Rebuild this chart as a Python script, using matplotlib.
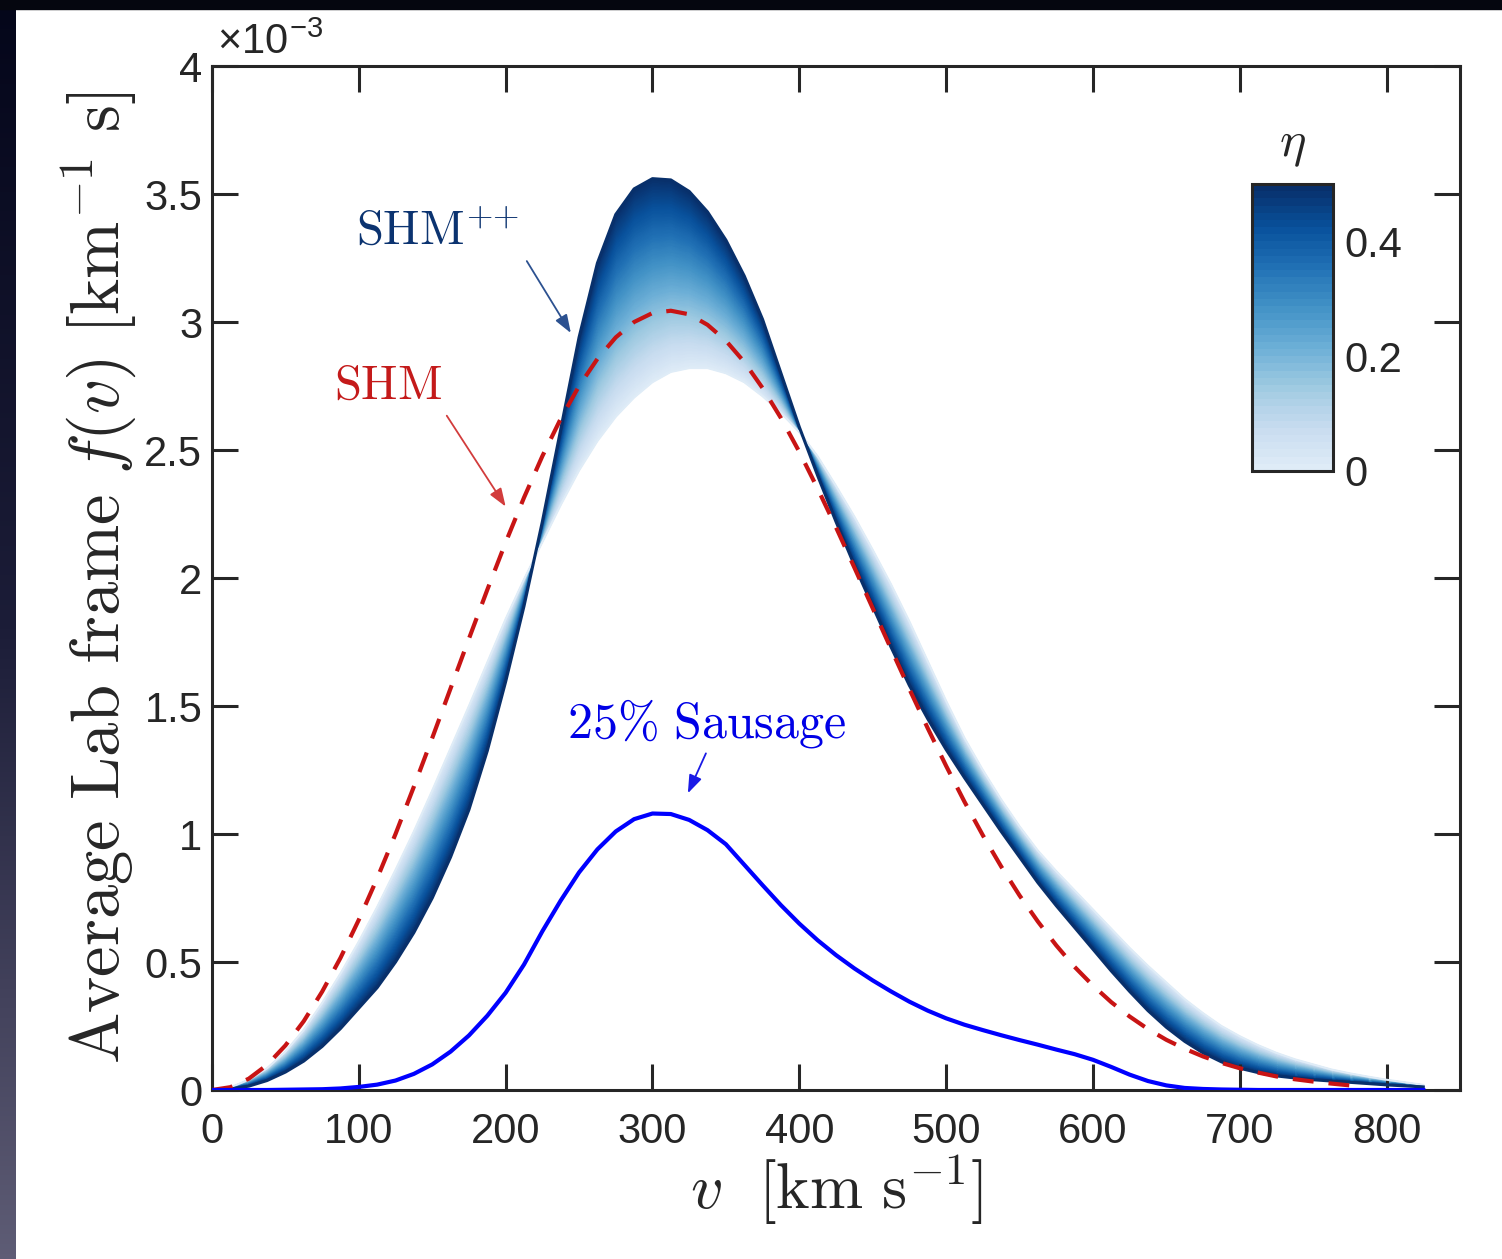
import numpy as np
import matplotlib
matplotlib.use('Agg')
import matplotlib.pyplot as plt
from matplotlib.colors import ListedColormap, LinearSegmentedColormap, Normalize
from matplotlib.patches import Rectangle
from matplotlib.ticker import FuncFormatter
from matplotlib.cm import ScalarMappable

plt.rcParams['mathtext.fontset'] = 'cm'
plt.rcParams['font.family'] = ['Liberation Sans', 'DejaVu Sans']

# speeds [km/s]; f(v) values are in units of 1e-3 km^-1 s
v = [0, 12.5, 25, 37.5, 50, 62.5, 75, 87.5, 100, 112.5, 125, 137.5, 150, 162.5, 175, 187.5,
     200, 212.5, 225, 237.5, 250, 262.5, 275, 287.5, 300, 312.5, 325, 337.5, 350, 362.5,
     375, 387.5, 400, 412.5, 425, 437.5, 450, 462.5, 475, 487.5, 500, 512.5, 525, 537.5,
     550, 562.5, 575, 587.5, 600, 612.5, 625, 637.5, 650, 662.5, 675, 687.5, 700, 712.5,
     725, 737.5, 750, 762.5, 775, 787.5, 800, 812.5, 825]
# SHM++ eta = 0 (lightest curve)
f_eta0 = [0, 0.01, 0.04, 0.085, 0.15, 0.235, 0.34, 0.455, 0.58, 0.715, 0.86, 1.01, 1.17,
          1.335, 1.50, 1.67, 1.84, 1.995, 2.14, 2.285, 2.42, 2.535, 2.63, 2.705, 2.765,
          2.805, 2.82, 2.82, 2.80, 2.765, 2.71, 2.645, 2.57, 2.475, 2.36, 2.24, 2.11, 1.975,
          1.83, 1.675, 1.52, 1.375, 1.25, 1.135, 1.03, 0.935, 0.855, 0.78, 0.705, 0.63,
          0.555, 0.485, 0.42, 0.355, 0.30, 0.25, 0.21, 0.175, 0.145, 0.12, 0.10, 0.08,
          0.065, 0.052, 0.04, 0.03, 0.02]
# SHM++ eta = 0.5 (darkest curve)
f_eta05 = [0, 0.004, 0.015, 0.037, 0.07, 0.113, 0.17, 0.24, 0.32, 0.40, 0.50, 0.615, 0.75,
           0.91, 1.095, 1.325, 1.595, 1.89, 2.22, 2.58, 2.94, 3.23, 3.42, 3.52, 3.56, 3.555,
           3.51, 3.43, 3.32, 3.18, 3.01, 2.80, 2.59, 2.40, 2.22, 2.05, 1.89, 1.73, 1.58,
           1.45, 1.33, 1.22, 1.115, 1.01, 0.91, 0.81, 0.72, 0.635, 0.55, 0.465, 0.385, 0.31,
           0.245, 0.19, 0.145, 0.11, 0.085, 0.068, 0.055, 0.047, 0.04, 0.035, 0.03, 0.025,
           0.02, 0.016, 0.012]
# 25% Sausage
f_saus = [0, 0, 0, 0, 0.001, 0.002, 0.003, 0.006, 0.012, 0.021, 0.037, 0.063, 0.10, 0.15,
          0.213, 0.29, 0.38, 0.49, 0.62, 0.74, 0.85, 0.94, 1.01, 1.058, 1.08, 1.078, 1.055,
          1.015, 0.96, 0.88, 0.80, 0.722, 0.65, 0.585, 0.527, 0.475, 0.428, 0.385, 0.345,
          0.31, 0.28, 0.255, 0.234, 0.214, 0.195, 0.177, 0.158, 0.14, 0.118, 0.09, 0.06,
          0.035, 0.018, 0.008, 0.004, 0.002, 0.001, 0, 0, 0, 0, 0, 0, 0, 0, 0, 0]
# SHM (dashed), defined up to 775 km/s
v_shm = v[:63]
f_shm = [0, 0.011, 0.044, 0.098, 0.174, 0.269, 0.384, 0.516, 0.665, 0.827, 1.00, 1.185,
         1.375, 1.569, 1.763, 1.954, 2.139, 2.314, 2.476, 2.622, 2.75, 2.856, 2.94, 3.0,
         3.035, 3.044, 3.03, 2.989, 2.927, 2.844, 2.742, 2.625, 2.493, 2.349, 2.198, 2.041,
         1.882, 1.723, 1.566, 1.413, 1.266, 1.126, 0.995, 0.873, 0.76, 0.658, 0.565, 0.481,
         0.408, 0.343, 0.287, 0.238, 0.196, 0.161, 0.131, 0.106, 0.085, 0.068, 0.053,
         0.042, 0.033, 0.025, 0.018]
eta_range = [0, 0.5]
cbar_ticks = [0, 0.2, 0.4]

W, H = 1502, 1259
fig = plt.figure(figsize=(W/100, H/100), dpi=100)
fig.patch.set_facecolor('white')

# dark slide border (left + top)
strip = fig.add_axes([0, 0, 16/W, 1])
grad = LinearSegmentedColormap.from_list('bg', ['#04061a', '#1c1d38', '#5e5c75'])
strip.imshow(np.linspace(0, 1, 256)[:, None], aspect='auto', cmap=grad)
strip.axis('off')
fig.add_artist(Rectangle((0, 1-9/H), 1, 9/H, transform=fig.transFigure, color='#05060f', zorder=10))

ax = fig.add_axes([212/W, 1-1090/H, (1460-212)/W, (1090-66)/H])
k = '#262626'

base = plt.get_cmap('Blues')
cmap = ListedColormap(base(np.linspace(0.12, 1.0, 256)))
norm = Normalize(*eta_range)

# shaded band between the eta=0 and eta=0.5 curves
vv = np.array(v, float)
lo = np.array(f_eta0)
hi = np.array(f_eta05)
t = np.linspace(0, 1, 60)[:, None]
X = np.tile(vv, (t.shape[0], 1))
Y = lo[None, :] + t*(hi - lo)[None, :]
ax.pcolormesh(X, Y, np.broadcast_to(t*eta_range[1], X.shape), shading='gouraud',
              cmap=cmap, norm=norm, zorder=1)
ax.plot(v, f_eta0, color=cmap(0.0), lw=1.5, zorder=2)
ax.plot(v, f_eta05, color=cmap(1.0), lw=2.2, zorder=2)

ax.plot(v_shm, f_shm, color='#c81414', lw=3, dashes=(5, 3.6), zorder=3)
ax.plot(v, f_saus, color='#0000ff', lw=3, zorder=3)

ax.set_xlim(0, 850)
ax.set_ylim(0, 4)
ax.set_xticks(range(0, 801, 100))
ax.set_yticks(np.arange(0, 4.01, 0.5))
ax.yaxis.set_major_formatter(FuncFormatter(lambda x, _: '%g' % x))
ax.tick_params(direction='in', length=19, width=2.2, color=k, labelcolor=k,
               labelsize=30, top=True, right=True)
ax.tick_params(axis='x', pad=16)
ax.tick_params(axis='y', pad=7)
for s in ax.spines.values():
    s.set_linewidth(2.2)
    s.set_color(k)

ax.set_xlabel(r'$v\ \ [\mathrm{km\ s}^{-1}]$', fontsize=46, color=k, labelpad=0)
ax.set_ylabel(r'$\mathrm{Average\ Lab\ frame}\ f(v)\ [\mathrm{km}^{-1}\ \mathrm{s}]$',
              fontsize=49.5, color=k, labelpad=4)
ax.text(0.004, 1.003, r'×10$^{\mathregular{-3}}$', transform=ax.transAxes, fontsize=30,
        color=k, ha='left', va='bottom')

# labels + arrows
ax.text(98, 3.30, r'$\mathrm{SHM}^{{+}{+}}$', color='#0b3370', fontsize=35)
ax.text(83, 2.70, r'$\mathrm{SHM}$', color='#c41a1a', fontsize=35)
ax.text(242, 1.377, r'$\mathrm{25\%\ Sausage}$', color='#0000e6', fontsize=36)
arr = '-|>,head_length=1.1,head_width=0.4'
ax.annotate('', xy=(244.4, 2.957), xytext=(214.4, 3.238),
            arrowprops=dict(arrowstyle=arr, color='#2c5190', lw=1.3, shrinkA=0, shrinkB=0))
ax.annotate('', xy=(200, 2.279), xytext=(159.9, 2.634),
            arrowprops=dict(arrowstyle=arr, color='#d23c3c', lw=1.3, shrinkA=0, shrinkB=0))
ax.annotate('', xy=(324.1, 1.159), xytext=(336.4, 1.315),
            arrowprops=dict(arrowstyle=arr, color='#1a1ae6', lw=1.3, shrinkA=0, shrinkB=0))

# colorbar
cax = fig.add_axes([1252/W, 1-471/H, 81/W, 287/H])
cb = fig.colorbar(ScalarMappable(norm=norm, cmap=ListedColormap(base(np.linspace(0.12, 1.0, 40)))),
                  cax=cax, ticks=cbar_ticks)
cb.ax.yaxis.set_major_formatter(FuncFormatter(lambda x, _: '%g' % x))
cb.ax.tick_params(length=0, labelsize=30, pad=8, labelcolor=k)
cb.outline.set_linewidth(2.2)
cb.outline.set_edgecolor(k)
cax.set_title(r'$\eta$', fontsize=36, pad=20, color=k)

fig.savefig('out.png', dpi=100)
